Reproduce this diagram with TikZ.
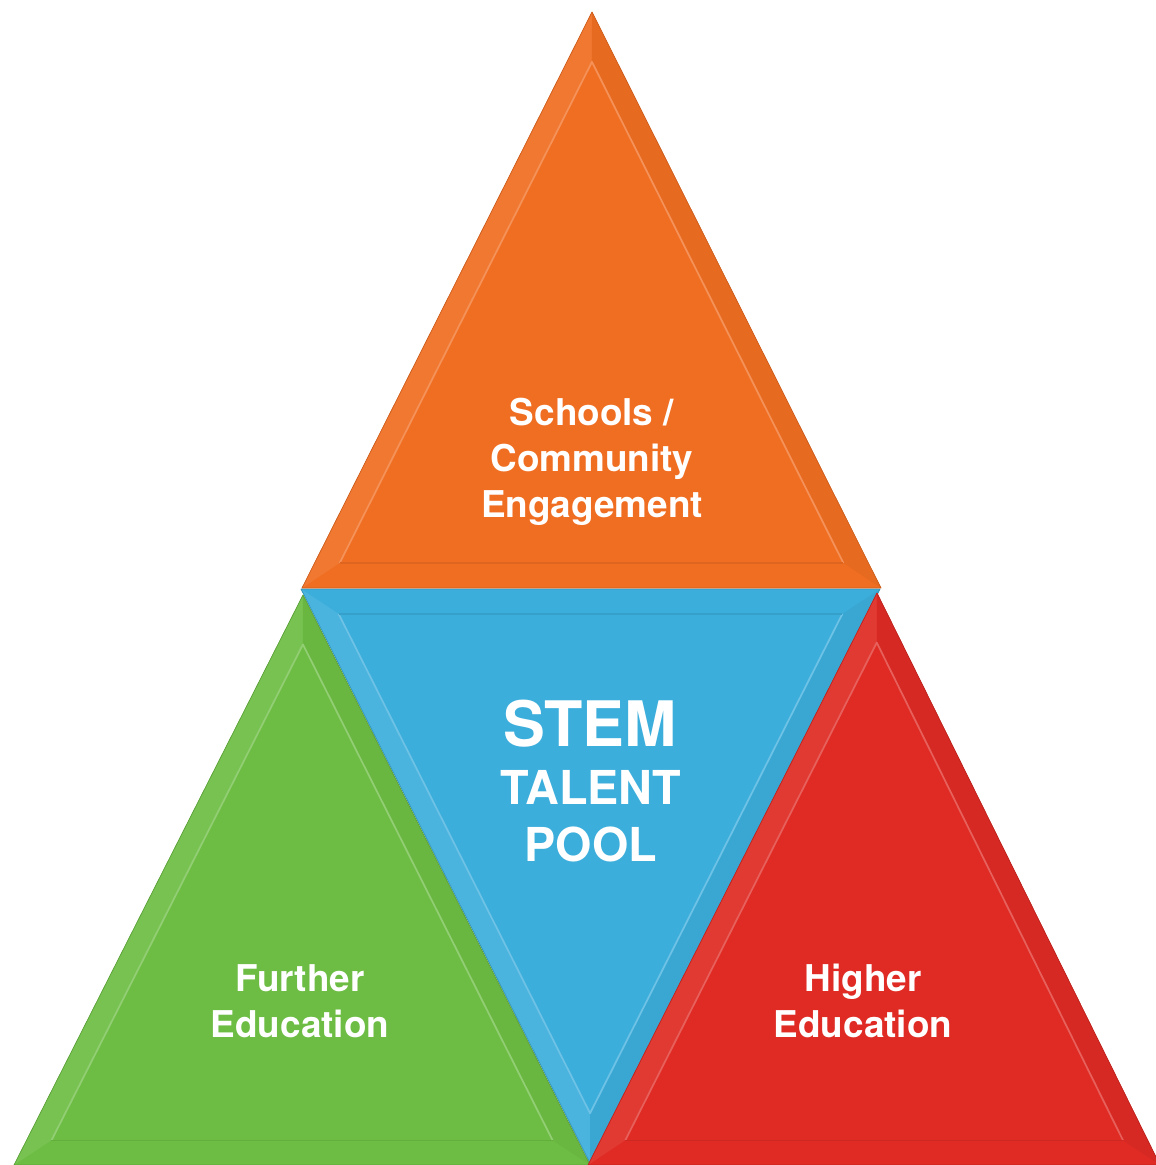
\documentclass[tikz,border=0pt]{standalone}
\usepackage{fontspec}
\setsansfont{TeX Gyre Heros}
\usepackage{tikz}
\usetikzlibrary{calc}
\usepackage{xcolor}

\definecolor{tierorange}{HTML}{F06E22}
\definecolor{tierblue}{HTML}{3CAEDC}
\definecolor{tiergreen}{HTML}{6DBD44}
\definecolor{tierred}{HTML}{DF2B24}

\tikzset{
    tiertext/.style={text=white, font=\sffamily\bfseries, align=center, inner sep=0pt},
}

\begin{document}
\begin{tikzpicture}[x=0.02cm, y=-0.02cm]
    \useasboundingbox (0,0) rectangle (1155,1165);

    % corners of the four tiers (first corner: apex / lower point)
    \coordinate (b1) at (590,1163);
    \coordinate (b2) at (301,589);
    \coordinate (b3) at (880,589);
    \coordinate (o1) at (592,12);
    \coordinate (o2) at (302,588);
    \coordinate (o3) at (881,588);
    \coordinate (g1) at (303,595);
    \coordinate (g2) at (14,1165);
    \coordinate (g3) at (590,1165);
    \coordinate (r1) at (877,593);
    \coordinate (r2) at (588,1165);
    \coordinate (r3) at (1160,1165);

    % each tier: flat fill, lit and shaded rims, soft inner bevel
    \foreach \t/\col in {b/tierblue, o/tierorange, g/tiergreen, r/tierred} {
        \coordinate (\t c) at ($(\t2)!0.5!(\t3)!0.3333!(\t1)$);
        \coordinate (\t4) at ($(\t1)!0.13!(\t c)$);
        \coordinate (\t5) at ($(\t2)!0.13!(\t c)$);
        \coordinate (\t6) at ($(\t3)!0.13!(\t c)$);
        \fill[\col] (\t1) -- (\t2) -- (\t3) -- cycle;
        \fill[\col!93!white] (\t1) -- (\t2) -- (\t5) -- (\t4) -- cycle;
        \fill[\col!96!black] (\t1) -- (\t3) -- (\t6) -- (\t4) -- cycle;
        \draw[\col!75!white, line width=1pt, line join=round] (\t5) -- (\t4) -- (\t6);
        \draw[\col!92!black, line width=0.8pt, line join=round] (\t5) -- (\t6);
        \draw[\col!85!black, line width=0.4pt, line join=round] (\t1) -- (\t2) -- (\t3) -- cycle;
    }

    % labels
    \node[tiertext, font=\sffamily\bfseries\fontsize{21}{26}\selectfont] (schools) at (592,462)
        {Schools /\\Community\\Engagement};
    \node[tiertext, font=\sffamily\bfseries\fontsize{35.7}{40}\selectfont, anchor=base] (stem) at (590,746) {STEM};
    \node[tiertext, font=\sffamily\bfseries\fontsize{26.6}{30}\selectfont, anchor=base] (talent) at (591,804) {TALENT};
    \node[tiertext, font=\sffamily\bfseries\fontsize{26.6}{30}\selectfont, anchor=base] (pool) at (591,861) {POOL};
    \node[tiertext, font=\sffamily\bfseries\fontsize{21}{26}\selectfont] (further) at (300,1001)
        {Further\\Education};
    \node[tiertext, font=\sffamily\bfseries\fontsize{21}{26}\selectfont] (higher) at (863,1001)
        {Higher\\Education};
\end{tikzpicture}
\end{document}
